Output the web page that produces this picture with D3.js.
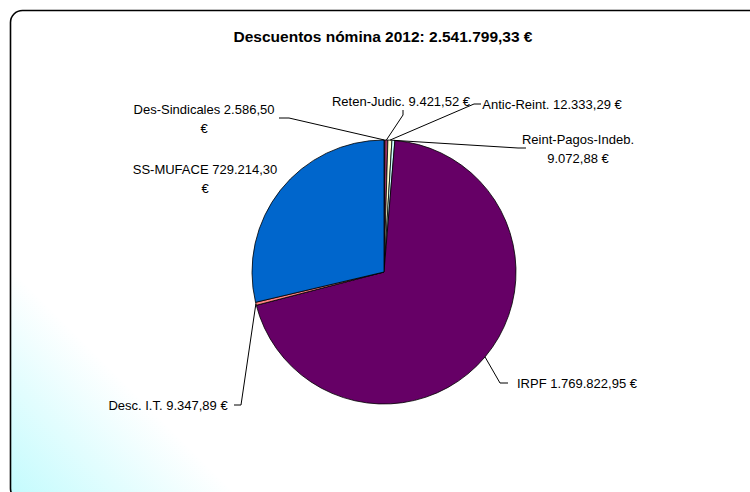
<!DOCTYPE html>
<html>
<head>
<meta charset="utf-8">
<script src="https://cdn.jsdelivr.net/npm/d3@7"></script>
<style>
  body { margin: 0; background: #fff; }
  svg text { font-family: Arial, "Liberation Sans", sans-serif; }
</style>
</head>
<body>
<div id="chart"></div>
<script>

// slices in the order Excel drew them (clockwise from 12 o'clock)
var categories = ["Des-Sindicales", "Reten-Judic.", "Antic-Reint.", "Reint-Pagos-Indeb.", "IRPF", "Desc. I.T.", "SS-MUFACE"];
var values = [2586.50, 9421.52, 12333.29, 9072.88, 1769822.95, 9347.89, 729214.30];
var colors = ["#9999FF", "#993366", "#FFFFCC", "#CCFFFF", "#660066", "#FF8080", "#0066CC"];
var titleText = "Descuentos nómina 2012: ";

// label placement (center x, first baseline y, how to wrap, leader elbow)
var labelLayout = [
    {x: 204, y: 114, wrap: "euro", leader: [[279, 118], [289, 118]]},
    {x: 401, y: 106, wrap: null, leader: [[403, 110], [403, 115]]},
    {x: 552, y: 109, wrap: null, leader: [[481, 104], [474, 104]]},
    {x: 578, y: 144, wrap: "name", leader: [[526, 148], [518, 148]]},
    {x: 577, y: 388, wrap: null, leader: [[508, 383], [500, 383]]},
    {x: 168, y: 410, wrap: null, leader: [[234, 405], [241, 405]]},
    {x: 205, y: 174, wrap: "euro", leader: null}
];

var width = 750,
    height = 492,
    cx = 384,
    cy = 272,
    radius = 132;

var es = d3.formatLocale({decimal: ",", thousands: ".", grouping: [3], currency: ["", ""]});
var fmt = es.format(",.2f");

var svg = d3.select("#chart").append("svg")
    .attr("width", width)
    .attr("height", height);

var defs = svg.append("defs");
var grad = defs.append("linearGradient")
    .attr("id", "bg")
    .attr("gradientUnits", "userSpaceOnUse")
    .attr("x1", 10).attr("y1", 492)
    .attr("x2", 122).attr("y2", 380);
grad.append("stop").attr("offset", 0).attr("stop-color", "#c4fbfd");
grad.append("stop").attr("offset", 1).attr("stop-color", "#ffffff");

// chart area frame, runs off the right and bottom edges
svg.append("rect")
    .attr("x", 10.5)
    .attr("y", 10.5)
    .attr("width", 760)
    .attr("height", 490)
    .attr("rx", 12)
    .attr("fill", "url(#bg)")
    .attr("stroke", "#000")
    .attr("stroke-width", 1.6);

svg.append("text")
    .attr("x", 383)
    .attr("y", 42)
    .attr("text-anchor", "middle")
    .attr("font-size", "15.5px")
    .attr("font-weight", "bold")
    .text(titleText + fmt(d3.sum(values)) + " €");

var data = categories.map(function(c, i) { return {name: c, value: values[i], i: i}; });

var pie = d3.pie()
    .sort(null)
    .value(function(d) { return d.value; });

var arc = d3.arc()
    .innerRadius(0)
    .outerRadius(radius);

var edge = d3.arc()
    .innerRadius(radius)
    .outerRadius(radius);

var arcs = pie(data);

var g = svg.append("g")
    .attr("transform", "translate(" + cx + "," + cy + ")");

g.selectAll("path")
    .data(arcs)
    .enter().append("path")
    .attr("d", arc)
    .attr("fill", function(d) { return colors[d.data.i]; })
    .attr("stroke", "#000")
    .attr("stroke-width", 0.8)
    .attr("stroke-linejoin", "round");

// leader lines
svg.selectAll(".leader")
    .data(arcs.filter(function(d) { return labelLayout[d.data.i].leader; }))
    .enter().append("polyline")
    .attr("class", "leader")
    .attr("fill", "none")
    .attr("stroke", "#000")
    .attr("stroke-width", 1)
    .attr("points", function(d) {
        var p = edge.centroid(d);
        var pts = labelLayout[d.data.i].leader.concat([[cx + p[0], cy + p[1]]]);
        return pts.map(function(q) { return q.join(","); }).join(" ");
    });

// data labels
var labels = svg.selectAll(".lbl")
    .data(data)
    .enter().append("text")
    .attr("class", "lbl")
    .attr("text-anchor", "middle")
    .attr("font-size", "13px")
    .attr("fill", "#000");

labels.each(function(d) {
    var lay = labelLayout[d.i];
    var num = fmt(d.value);
    var lines;
    if (lay.wrap == "euro") lines = [d.name + " " + num, "€"];
    else if (lay.wrap == "name") lines = [d.name, num + " €"];
    else lines = [d.name + " " + num + " €"];
    d3.select(this).selectAll("tspan")
        .data(lines)
        .enter().append("tspan")
        .attr("x", lay.x)
        .attr("y", function(l, k) { return lay.y + k * 19; })
        .text(function(l) { return l; });
});

</script>
</body>
</html>
